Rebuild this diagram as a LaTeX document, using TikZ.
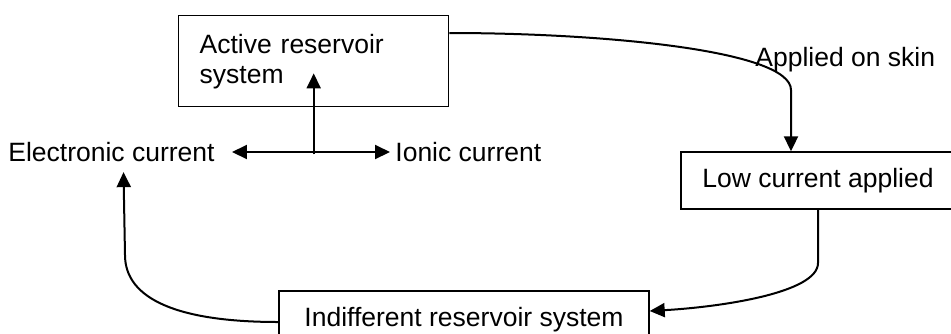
\documentclass[tikz,border=0pt]{standalone}
\usepackage{fontspec}
\setmainfont{Liberation Sans}
\usetikzlibrary{arrows.meta, calc, positioning}

\begin{document}
\begin{tikzpicture}[x=0.5pt, y=-0.5pt, >={Triangle[length=7.5pt, width=7pt]},
  font=\fontsize{13.25pt}{15pt}\selectfont,
  box/.style={draw, rectangle, line width=0.7pt, inner sep=0pt},
  lbl/.style={inner sep=0pt, anchor=west},
  conn/.style={line width=1pt}]
\useasboundingbox (0,0) rectangle (951,333);
% Nodes
\node[box, anchor=north west, inner xsep=10.5pt, text width=114pt, align=left, minimum height=45.5pt] (act) at (178,15) {Active reservoir\\system};
\node[box, minimum width=137pt, minimum height=28.5pt] (low) at (818,180.5) {Low current applied};
\node[box, minimum width=185pt, minimum height=28.5pt] (ind) at (464,319.5) {Indifferent reservoir system};
\node[lbl] (elec) at (8,152) {Electronic current};
\node[lbl] (ion) at (395,152) {Ionic current};
\node[lbl] (skin) at (755,60) {Applied on skin};
\coordinate (j) at ([yshift=-23.5pt]act.south);

% Current split
\draw[conn, ->] (j) -- ([yshift=17pt]act.south);
\draw[conn, <->] ([xshift=8.5pt]elec.east) -- ([xshift=-2.5pt]ion.west);

% Cycle
\draw[conn, ->] ([yshift=-9pt]act.north east) .. controls (600,33) and (791,50) .. (791,90) -- ([xshift=-13.5pt]low.north);
\draw[conn, ->] (low.south) -- (818,263) .. controls (818,293) and (720,307) .. ([yshift=4.25pt]ind.east);
\draw[conn, ->] ([yshift=-1.25pt]ind.west) .. controls (180,322) and (125,300) .. (125,255) -- ([xshift=6pt, yshift=-5pt]elec.south);
\end{tikzpicture}
\end{document}
